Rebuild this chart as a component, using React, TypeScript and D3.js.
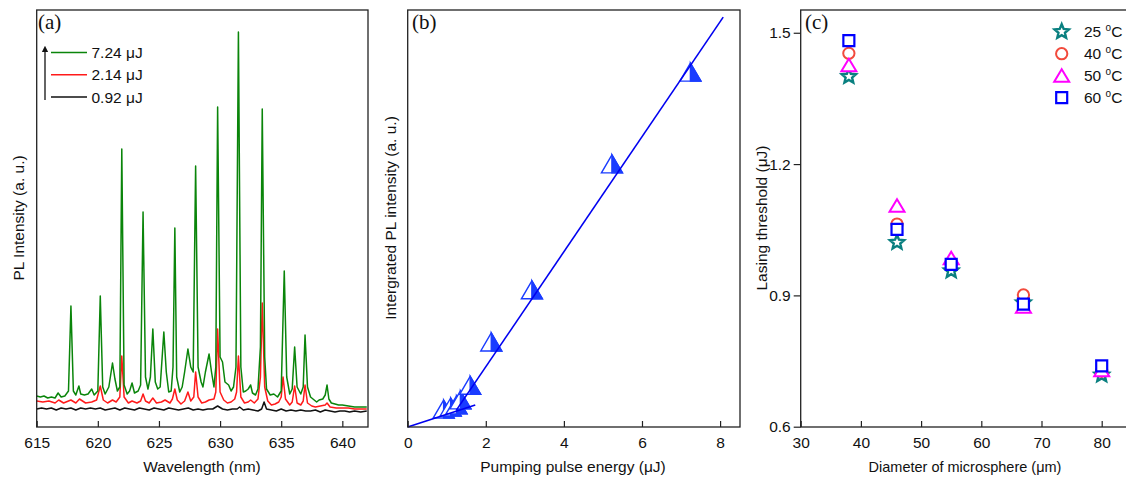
import { useEffect, useRef } from "react";
import * as d3 from "d3";

// ---- panel (a): PL spectra, [wavelength nm, intensity a.u.] ----
const SPEC_724: [number, number][] = [
  [615.0, 31], [615.3, 30], [615.6, 31], [615.9, 29], [616.2, 30], [616.5, 29], [616.75, 34], [617.0, 30],
  [617.3, 31], [617.6, 36], [617.8, 121], [618.0, 36], [618.2, 32], [618.45, 41], [618.6, 33], [618.9, 32],
  [619.2, 33], [619.5, 38], [619.7, 32], [620.0, 36], [620.2, 131], [620.4, 40], [620.6, 33], [620.9, 40],
  [621.2, 64], [621.4, 48], [621.6, 36], [621.8, 40], [621.96, 278], [622.15, 42], [622.4, 33], [622.6, 36],
  [622.8, 44], [623.0, 34], [623.3, 36], [623.5, 42], [623.7, 215], [623.9, 50], [624.1, 38], [624.3, 50],
  [624.5, 98], [624.7, 45], [624.9, 38], [625.1, 40], [625.4, 95], [625.6, 55], [625.8, 35], [626.0, 36],
  [626.15, 60], [626.3, 199], [626.45, 50], [626.7, 35], [626.9, 40], [627.1, 55], [627.37, 78], [627.6, 60],
  [627.8, 55], [628.0, 261], [628.2, 60], [628.45, 45], [628.6, 40], [628.8, 55], [629.1, 73], [629.3, 55],
  [629.5, 40], [629.65, 60], [629.8, 320], [630.0, 70], [630.2, 65], [630.4, 45], [630.7, 42], [630.9, 36],
  [631.1, 40], [631.3, 60], [631.5, 395], [631.7, 60], [631.9, 35], [632.1, 36], [632.3, 38], [632.5, 42],
  [632.65, 34], [632.9, 32], [633.1, 38], [633.3, 80], [633.45, 318], [633.65, 70], [633.8, 38], [634.1, 32],
  [634.4, 33], [634.7, 30], [635.0, 36], [635.25, 156], [635.45, 50], [635.7, 33], [635.9, 38], [636.1, 80],
  [636.3, 40], [636.6, 33], [636.8, 40], [636.95, 92], [637.15, 40], [637.4, 30], [637.7, 27], [637.9, 25],
  [638.1, 27], [638.4, 28], [638.6, 32], [638.75, 42], [638.9, 28], [639.1, 24], [639.4, 23], [639.7, 22],
  [640.0, 22], [640.5, 21], [641.0, 20], [641.5, 20], [642.0, 20],
];

const SPEC_214: [number, number][] = [
  [615.0, 26], [615.5, 25], [616.0, 26], [616.5, 24], [616.8, 27], [617.2, 24], [617.8, 27], [618.2, 24],
  [618.5, 28], [619.0, 24], [619.5, 25], [619.9, 27], [620.2, 41], [620.45, 27], [620.8, 24], [621.2, 27],
  [621.5, 25], [621.8, 30], [621.96, 71], [622.15, 30], [622.5, 24], [622.8, 26], [623.2, 24], [623.5, 26],
  [623.7, 33], [623.9, 26], [624.2, 24], [624.5, 29], [624.8, 24], [625.2, 25], [625.5, 27], [625.9, 24],
  [626.1, 28], [626.3, 38], [626.5, 27], [626.8, 23], [627.1, 26], [627.37, 35], [627.6, 26], [627.85, 30],
  [628.0, 55], [628.2, 30], [628.5, 24], [628.8, 25], [629.1, 27], [629.5, 28], [629.65, 35], [629.8, 98],
  [630.0, 35], [630.3, 27], [630.6, 24], [630.9, 25], [631.2, 28], [631.35, 35], [631.5, 71], [631.7, 30],
  [632.0, 24], [632.3, 25], [632.5, 27], [632.8, 24], [633.1, 28], [633.3, 50], [633.45, 124], [633.65, 40],
  [633.9, 26], [634.2, 22], [634.5, 23], [634.8, 25], [635.0, 30], [635.15, 50], [635.35, 28], [635.7, 22],
  [635.9, 25], [636.1, 41], [636.3, 24], [636.6, 22], [636.8, 26], [636.95, 42], [637.15, 24], [637.5, 21],
  [637.8, 20], [638.2, 21], [638.6, 22], [638.75, 24], [639.0, 20], [639.5, 19], [640.0, 19], [640.5, 19],
  [641.0, 18], [642.0, 18],
];

const SPEC_092: [number, number][] = [
  [615.0, 18], [615.4, 19], [615.8, 18], [616.2, 19], [616.6, 17], [617.0, 19], [617.4, 18], [617.8, 19],
  [618.2, 17], [618.6, 19], [619.0, 18], [619.4, 19], [619.8, 18], [620.2, 19], [620.6, 17], [621.0, 18],
  [621.4, 19], [621.8, 17], [622.2, 19], [622.6, 18], [623.0, 17], [623.4, 19], [623.8, 18], [624.2, 17],
  [624.6, 19], [625.0, 18], [625.4, 17], [625.8, 19], [626.2, 18], [626.6, 17], [627.0, 18], [627.4, 19],
  [627.8, 17], [628.2, 18], [628.6, 17], [629.0, 18], [629.4, 18], [629.8, 21], [630.2, 18], [630.6, 17],
  [631.0, 18], [631.4, 18], [631.6, 20], [631.9, 17], [632.3, 18], [632.7, 17], [633.1, 16], [633.4, 18],
  [633.6, 25], [633.8, 18], [634.2, 17], [634.6, 16], [635.0, 18], [635.4, 16], [635.8, 17], [636.2, 16],
  [636.6, 17], [637.0, 16], [637.4, 16], [637.8, 17], [638.2, 15], [638.6, 17], [639.0, 16], [639.4, 15],
  [639.8, 16], [640.2, 16], [640.6, 15], [641.0, 16], [641.5, 15], [642.0, 16],
];

const SPECTRA = [
  { label: "7.24 \u03bcJ", color: "#0a850a", data: SPEC_724 },
  { label: "2.14 \u03bcJ", color: "#ff1a1a", data: SPEC_214 },
  { label: "0.92 \u03bcJ", color: "#111111", data: SPEC_092 },
];
const WL_TICKS = [615, 620, 625, 630, 635, 640];

// ---- panel (b): integrated intensity vs pump energy ----
const PUMP_ENERGY = [0.92, 1.1, 1.25, 1.35, 1.6, 2.14, 3.18, 5.23, 7.24];
const INTEGRATED = [4.3, 4.8, 5.3, 6.5, 10.0, 20.4, 32.9, 63.1, 85.1];
const FIT_LOW: [number, number][] = [[0, 0], [1.73, 5.3]];
const FIT_HIGH: [number, number][] = [[1.25, 4.1], [8.08, 98.3]];
const ENERGY_TICKS = [0, 2, 4, 6, 8];

// ---- panel (c): threshold vs diameter ----
const DIAMETERS = [38, 46, 55, 67, 80];
const TH_25 = [1.4, 1.021, 0.956, 0.883, 0.718];
const TH_40 = [1.453, 1.063, 0.972, 0.901, 0.727];
const TH_50 = [1.426, 1.105, 0.985, 0.874, 0.729];
const TH_60 = [1.482, 1.051, 0.971, 0.88, 0.739];
const TEMPS = ["25", "40", "50", "60"];
const DIAM_TICKS = [30, 40, 50, 60, 70, 80];
const TH_TICKS = [0.6, 0.9, 1.2, 1.5];

const SANS = "'Liberation Sans', Arial, sans-serif";
const SERIF = "'Liberation Serif', 'Times New Roman', serif";
const FRAME = "#222";

export default function App() {
  const svgRef = useRef<SVGSVGElement | null>(null);

  useEffect(() => {
    if (!svgRef.current) return;
    const svg = d3.select(svgRef.current);
    svg.selectAll("*").remove();

    const top = 10;
    const bottom = 427;

    function frame(x0: number, x1: number) {
      svg.append("rect")
        .attr("x", x0).attr("y", top)
        .attr("width", x1 - x0).attr("height", bottom - top)
        .attr("fill", "none").attr("stroke", FRAME).attr("stroke-width", 1.3);
    }

    function bottomAxis(x: d3.ScaleLinear<number, number>, ticks: number[], minor: number[]) {
      const g = svg.append("g").attr("transform", `translate(0,${bottom})`);
      g.call(d3.axisBottom(x).tickValues(minor).tickSize(-4).tickFormat(() => ""));
      g.call(d3.axisBottom(x).tickValues(ticks).tickSize(-6).tickPadding(10).tickFormat(d3.format("d")));
      g.selectAll(".domain").remove();
      g.selectAll("line").attr("stroke", FRAME).attr("stroke-width", 1.2);
      g.selectAll("text").attr("font-family", SANS).attr("font-size", 15.5).attr("fill", "#111");
    }

    function panelTag(x: number, t: string) {
      svg.append("text").attr("x", x).attr("y", 29)
        .attr("font-family", SERIF).attr("font-size", 21).attr("fill", "#111").text(t);
    }

    function xLabel(cx: number, t: string, size = 15.5) {
      svg.append("text").attr("x", cx).attr("y", 472).attr("text-anchor", "middle")
        .attr("font-family", SANS).attr("font-size", size).attr("fill", "#111").text(t);
    }

    function yLabel(bx: number, t: string) {
      svg.append("text").attr("transform", `translate(${bx},218) rotate(-90)`)
        .attr("text-anchor", "middle")
        .attr("font-family", SANS).attr("font-size", 15.5).attr("fill", "#111").text(t);
    }

    // ================= (a) =================
    const xa = d3.scaleLinear().domain([615, 642.1]).range([36.7, 368]);
    const ya = d3.scaleLinear().domain([0, 417]).range([bottom, top]);
    const lineA = d3.line<[number, number]>().x((d) => xa(d[0])).y((d) => ya(d[1]));
    [...SPECTRA].reverse().forEach((s) => {
      svg.append("path").datum(s.data).attr("d", lineA)
        .attr("fill", "none").attr("stroke", s.color).attr("stroke-width", 1.5)
        .attr("stroke-linejoin", "round");
    });
    frame(36.7, 368);
    bottomAxis(xa, WL_TICKS, [617.5, 622.5, 627.5, 632.5, 637.5]);
    panelTag(38, "(a)");
    // legend with arrow
    const defs = svg.append("defs");
    defs.append("marker").attr("id", "arrowhead")
      .attr("viewBox", "0 0 10 10").attr("refX", 5).attr("refY", 5)
      .attr("markerWidth", 5).attr("markerHeight", 6).attr("orient", "auto")
      .append("path").attr("d", "M0,0 L10,5 L0,10 z").attr("fill", "#111");
    svg.append("line").attr("x1", 45).attr("x2", 45).attr("y1", 100).attr("y2", 49)
      .attr("stroke", "#111").attr("stroke-width", 1.3).attr("marker-end", "url(#arrowhead)");
    const legY = d3.scalePoint<string>().domain(SPECTRA.map((s) => s.label)).range([52.5, 97]);
    SPECTRA.forEach((s) => {
      const yy = legY(s.label)!;
      svg.append("line").attr("x1", 51).attr("x2", 87).attr("y1", yy).attr("y2", yy)
        .attr("stroke", s.color).attr("stroke-width", 1.5);
      svg.append("text").attr("x", 91.5).attr("y", yy + 5.5)
        .attr("font-family", SANS).attr("font-size", 15.5).attr("fill", "#111").text(s.label);
    });
    xLabel(202, "Wavelength (nm)");
    yLabel(24, "PL Intensity (a. u.)");

    // ================= (b) =================
    const xb = d3.scaleLinear().domain([0, 8.51]).range([407.7, 740]);
    const yb = d3.scaleLinear().domain([0, 100]).range([bottom, top]);
    const lineB = d3.line<[number, number]>().x((d) => xb(d[0])).y((d) => yb(d[1]));
    const blue = "#1a3cff";
    PUMP_ENERGY.forEach((e, i) => {
      const g = svg.append("g").attr("transform", `translate(${xb(e)},${yb(INTEGRATED[i])})`);
      const w = 21, h = 18;
      g.append("path").attr("d", `M0,${-h / 2} L${-w / 2},${h / 2} L${w / 2},${h / 2} Z`)
        .attr("fill", "#fff").attr("stroke", blue).attr("stroke-width", 1.4);
      g.append("path").attr("d", `M0,${-h / 2} L${w / 2},${h / 2} L0,${h / 2} Z`)
        .attr("fill", blue).attr("stroke", blue).attr("stroke-width", 1.4);
    });
    [FIT_LOW, FIT_HIGH].forEach((f) => {
      svg.append("path").datum(f).attr("d", lineB)
        .attr("fill", "none").attr("stroke", "#0000f0").attr("stroke-width", 1.6);
    });
    frame(407.7, 740);
    bottomAxis(xb, ENERGY_TICKS, [1, 3, 5, 7]);
    panelTag(412, "(b)");
    xLabel(573, "Pumping pulse energy (\u03bcJ)");
    yLabel(396, "Intergrated PL intensity (a. u.)");

    // ================= (c) =================
    const xc = d3.scaleLinear().domain([30, 85]).range([800.7, 800.7 + 55 * 6.02]);
    const yc = d3.scaleLinear().domain([0.6, 1.552]).range([426.7, top]);

    const starPath = (() => {
      const pts: [number, number][] = [];
      for (let k = 0; k < 10; k++) {
        const r = k % 2 === 0 ? 7.5 : 3.4;
        const a = -Math.PI / 2 + (k * Math.PI) / 5;
        pts.push([r * Math.cos(a), r * Math.sin(a)]);
      }
      return "M" + pts.map((p) => p.join(",")).join("L") + "Z";
    })();
    const markers = [
      { temp: TEMPS[0], vals: TH_25, color: "#0a8080", d: starPath, sw: 2.4 },
      { temp: TEMPS[1], vals: TH_40, color: "#f24a3c", d: d3.symbol(d3.symbolCircle, 100)()!, sw: 2 },
      { temp: TEMPS[2], vals: TH_50, color: "#ff00ff", d: "M0,-6.5 L7.5,6 L-7.5,6 Z", sw: 2 },
      { temp: TEMPS[3], vals: TH_60, color: "#0000ff", d: "M-5.5,-5.5 L5.5,-5.5 L5.5,5.5 L-5.5,5.5 Z", sw: 2.2 },
    ];
    markers.forEach((m) => {
      DIAMETERS.forEach((dm, i) => {
        svg.append("path").attr("d", m.d)
          .attr("transform", `translate(${xc(dm)},${yc(m.vals[i])})`)
          .attr("fill", "#fff").attr("stroke", m.color).attr("stroke-width", m.sw)
          .attr("stroke-linejoin", "miter");
      });
    });
    frame(800.7, 800.7 + 55 * 6.02);
    bottomAxis(xc, DIAM_TICKS, [35, 45, 55, 65, 75]);
    const gy = svg.append("g").attr("transform", "translate(800.7,0)");
    gy.call(d3.axisLeft(yc).tickValues([0.75, 1.05, 1.35]).tickSize(4).tickFormat(() => ""));
    gy.call(d3.axisLeft(yc).tickValues(TH_TICKS).tickSize(7).tickPadding(3).tickFormat(d3.format(".1f")));
    gy.selectAll(".domain").remove();
    gy.selectAll("line").attr("stroke", FRAME).attr("stroke-width", 1.2);
    gy.selectAll("text").attr("font-family", SANS).attr("font-size", 15.5).attr("fill", "#111");
    panelTag(805, "(c)");

    const legC = d3.scalePoint<string>().domain(TEMPS).range([31.7, 97.7]);
    markers.forEach((m) => {
      const yy = legC(m.temp)!;
      svg.append("path").attr("d", m.d).attr("transform", `translate(1061.7,${yy})`)
        .attr("fill", "#fff").attr("stroke", m.color).attr("stroke-width", m.sw);
      const t = svg.append("text").attr("x", 1084).attr("y", yy + 5.5)
        .attr("font-family", SANS).attr("font-size", 15.5).attr("fill", "#111");
      t.append("tspan").text(`${m.temp} `);
      t.append("tspan").attr("font-size", 10).attr("dy", -6).text("o");
      t.append("tspan").attr("dy", 6).text("C");
    });
    xLabel(965, "Diameter of microsphere (\u03bcm)", 14.5);
    yLabel(767, "Lasing threshold (\u03bcJ)");
  }, []);

  return (
    <svg
      ref={svgRef}
      width={1126}
      height={480}
      style={{ position: "absolute", left: 0, top: 0, background: "#fff" }}
    />
  );
}
